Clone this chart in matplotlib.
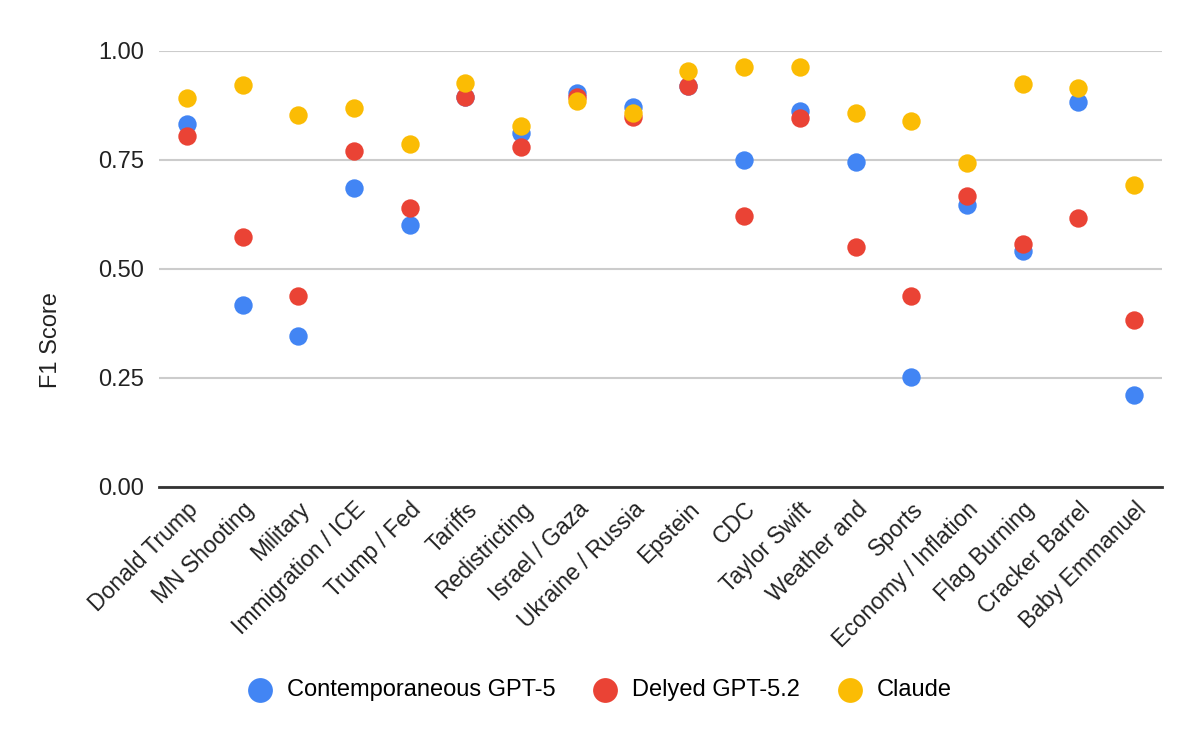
import matplotlib
matplotlib.use("Agg")
import matplotlib.pyplot as plt
import numpy as np

# ── data ───────────────────────────────────────────────────────────────
topics = [
    "Donald Trump", "MN Shooting", "Military", "Immigration / ICE",
    "Trump / Fed", "Tariffs", "Redistricting", "Israel / Gaza",
    "Ukraine / Russia", "Epstein", "CDC", "Taylor Swift", "Weather and",
    "Sports", "Economy / Inflation", "Flag Burning", "Cracker Barrel",
    "Baby Emmanuel",
]
gpt5 = [0.831, 0.417, 0.346, 0.684, 0.601, 0.893, 0.811, 0.904, 0.870,
        0.920, 0.749, 0.862, 0.744, 0.251, 0.646, 0.541, 0.882, 0.211]
gpt52 = [0.805, 0.573, 0.438, 0.770, 0.639, 0.893, 0.778, 0.894, 0.849,
         0.920, 0.621, 0.845, 0.550, 0.438, 0.667, 0.557, 0.616, 0.382]
claude = [0.891, 0.922, 0.853, 0.869, 0.785, 0.927, 0.827, 0.885, 0.858,
          0.954, 0.962, 0.962, 0.857, 0.839, 0.743, 0.923, 0.914, 0.693]

series = [
    ("Contemporaneous GPT-5", gpt5, "#4285F4"),
    ("Delyed GPT-5.2", gpt52, "#EA4335"),
    ("Claude", claude, "#FBBC04"),
]
y_ticks = [0.0, 0.25, 0.5, 0.75, 1.0]

plt.rcParams["font.family"] = ["Liberation Sans", "DejaVu Sans"]

fig = plt.figure(figsize=(12, 7.42), dpi=100)
ax = fig.add_axes([159 / 1200, 1 - 486.7 / 742,
                   (1162 - 159) / 1200, (486.7 - 50.7) / 742])

x = np.arange(len(topics))
for name, vals, color in series:
    ax.scatter(x, vals, s=175, color=color, label=name,
               linewidths=0, zorder=3, clip_on=False)

ax.set_xlim(-0.5, len(topics) - 0.5)
ax.set_ylim(0, 1.0)
ax.set_yticks(y_ticks)
ax.set_yticklabels([f"{t:.2f}" for t in y_ticks], fontsize=17, color="#222222")
ax.set_xticks(x)
ax.set_xticklabels(topics, rotation=45, ha="right", rotation_mode="anchor",
                   fontsize=16.5, color="#222222")
ax.tick_params(axis="both", length=0)
ax.tick_params(axis="y", pad=11)
ax.tick_params(axis="x", pad=8)

ax.grid(axis="y", color="#cccccc", linewidth=1.5, zorder=0)
ax.set_axisbelow(True)
for side in ("top", "right", "left"):
    ax.spines[side].set_visible(False)
ax.spines["bottom"].set_color("#333333")
ax.spines["bottom"].set_linewidth(2)
ax.spines["bottom"].set_zorder(2)

fig.text(51 / 1200, 1 - 340 / 742, "F1 Score", rotation=90,
         ha="center", va="center", fontsize=17, color="#222222")

fig.legend(loc="center", bbox_to_anchor=(0.5, 1 - 690 / 742), ncol=3,
           frameon=False, fontsize=17, markerscale=1.35, handletextpad=0.65,
           columnspacing=1.6, handlelength=1.0)

fig.savefig("out.png", dpi=100)
plt.close(fig)
